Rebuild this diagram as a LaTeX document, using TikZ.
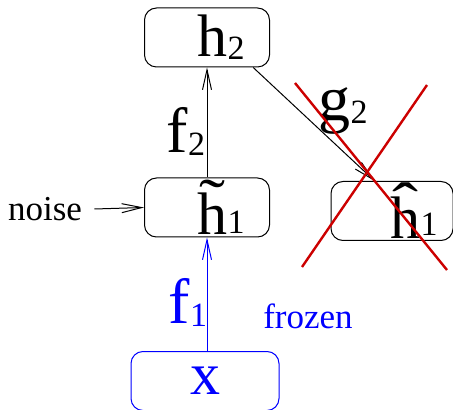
\documentclass[tikz,border=0pt]{standalone}
\usepackage{fontspec}
\setmainfont{Liberation Serif}
\usetikzlibrary{arrows.meta,positioning,calc}

\newcommand{\lowidx}[1]{\raisebox{-1.5pt}{\fontsize{17}{17}\selectfont #1}}
\newcommand{\markh}[1]{\makebox[0pt][l]{\makebox[0.5em][c]{\raisebox{0.23em}{\scalebox{1.3}[1]{#1}}}}h}

\begin{document}
\begin{tikzpicture}[
  x=0.5pt, y=-0.5pt,
  layer/.style={draw, rounded corners=6pt, line width=0.5pt, minimum width=62.5pt, minimum height=29.5pt, inner sep=0pt, font=\fontsize{30}{36}\selectfont},
  fixed/.style={layer, draw=blue, text=blue},
  lbl/.style={font=\fontsize{32}{38}\selectfont},
  small/.style={font=\fontsize{17.5}{21}\selectfont},
  arrow/.style={-{Straight Barb[length=10pt,width=4.5pt]}, line width=0.5pt},
  cross/.style={draw=red!80!black, line width=1.2pt}
]
\useasboundingbox (0,0) rectangle (453,410);

\node[layer] (h2) at (207,37.5) {\hspace{14pt}h\lowidx{2}};
\node[layer] (h1t) at (207,207.5) {\hspace{14pt}\raisebox{-2pt}{\markh{\char"02DC}}\lowidx{1}};
\node[layer, minimum width=61pt] (h1h) at (392,211) {\hspace{22pt}\raisebox{-3pt}{\markh{\char"02C6}}\lowidx{1}};
\node[fixed, minimum width=74pt] (x) at (205,381) {x};

\node[small, inner sep=6pt] (noise) at (45,209) {noise};

% connections
\draw[arrow] (h1t) -- (h2);
\draw[arrow, draw=blue] (x.north -| h1t) -- (h1t.south);
\draw[arrow] (noise.east) -- (h1t.west);
\draw[arrow] (h2.-33) -- (h1h.120);

% labels
\node[lbl] (f2) at (186,131) {f\lowidx{2}};
\node[lbl, text=blue] (f1) at (188,302) {f\lowidx{1}};
\node[lbl] (g2) at (343,111) {g\lowidx{2}};
\node[small, text=blue] (frozen) at (308,316) {frozen};

% crossed out
\draw[cross] (295,83) -- (447,270);
\draw[cross] (427,85) -- (302,267);

\end{tikzpicture}
\end{document}
